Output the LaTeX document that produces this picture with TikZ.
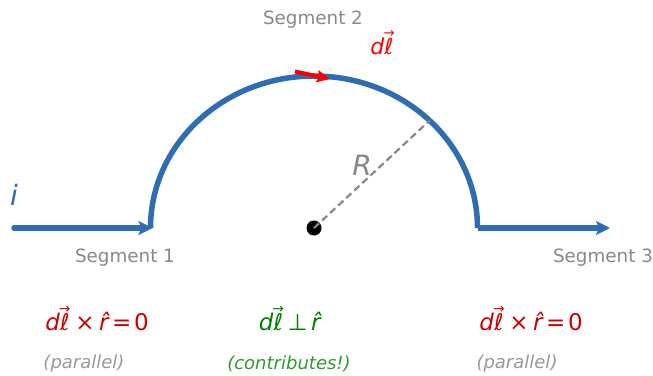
\documentclass[tikz,border=0pt]{standalone}
\usepackage{fontspec}
\setmainfont{DejaVu Sans}
\usetikzlibrary{arrows.meta,calc}
\definecolor{cblue}{HTML}{2E6DB4}
\definecolor{cgray}{HTML}{888888}
\definecolor{lgray}{HTML}{999999}
\definecolor{dred}{HTML}{CC0000}
\definecolor{cgreen}{HTML}{008000}
\definecolor{lgreen}{HTML}{2E9A2E}
\newcommand{\dlv}{\textit{d}\ooalign{\textit{ℓ}\cr\hidewidth\raisebox{0.74em}{\scalebox{0.6}{→}}\hidewidth\cr}}
\newcommand{\rhat}{\textit{\^r}}
\tikzset{
  wire/.style={cblue, line width=5.5pt},
  seglabel/.style={text=cgray, font=\fontsize{18.3}{21}\selectfont, inner sep=0pt},
  formula/.style={font=\fontsize{23}{26}\selectfont, inner sep=0pt},
  note/.style={font=\fontsize{18}{21}\selectfont\itshape, inner sep=0pt},
  bigsym/.style={font=\fontsize{28}{32}\selectfont\itshape, inner sep=0pt},
}
\begin{document}
\begin{tikzpicture}[x=1pt,y=-1pt]
\useasboundingbox (0,0) rectangle (653,375);
% geometry
\coordinate (O) at (314,228);
\coordinate (A0) at (14,228);
\coordinate (A1) at (150.5,228);
\coordinate (B0) at (477.5,228);
\coordinate (B1) at (610,228);
\coordinate (P) at ($(O)+(45:163.5pt and 152pt)$);
% wires
\draw[wire, line cap=round, -{Stealth[length=14pt,width=14pt,inset=3pt]}, shorten >=-2pt] (A0) -- (A1);
\draw[wire] (A1) arc[start angle=180, end angle=0, x radius=163.5pt, y radius=152pt];
\draw[wire, -{Stealth[length=14pt,width=14pt,inset=3pt]}] (B0) -- (B1);
% centre and radius
\fill[black] (O) circle[radius=7.5pt];
\draw[cgray, line width=2.2pt, dash pattern=on 7pt off 4pt] (O) -- (P);
% dl arrow
\coordinate (D0) at (295,71.5);
\coordinate (D1) at (330,79);
\draw[red, line width=4pt, -{Stealth[length=13pt,width=12pt,inset=2pt]}] (D0) -- (D1);
% labels
\node[bigsym, text=cblue] (i) at (14,195) {i};
\node[bigsym, text=cgray] (R) at (362,165) {R};
\node[seglabel] (s1) at (125,258) {Segment 1};
\node[seglabel] (s2) at (313,20) {Segment 2};
\node[seglabel] (s3) at (603,258) {Segment 3};
\node[formula, text=red, font=\fontsize{22}{26}\selectfont] (dl) at (382,46) {\dlv};
\node[formula, text=dred] (f1) at (97,321) {\dlv\hspace{0.25em}×\hspace{0.2em}\rhat\hspace{0.12em}=\hspace{0.12em}0};
\node[formula, text=cgreen] (f2) at (290,321) {\dlv\hspace{0.2em}⊥\hspace{0.15em}\rhat};
\node[formula, text=dred] (f3) at (531,321) {\dlv\hspace{0.25em}×\hspace{0.2em}\rhat\hspace{0.12em}=\hspace{0.12em}0};
\node[note, text=lgray] (n1) at (84,364) {(parallel)};
\node[note, text=lgreen] (n2) at (289,364) {(contributes!)};
\node[note, text=lgray] (n3) at (517,364) {(parallel)};
\end{tikzpicture}
\end{document}
